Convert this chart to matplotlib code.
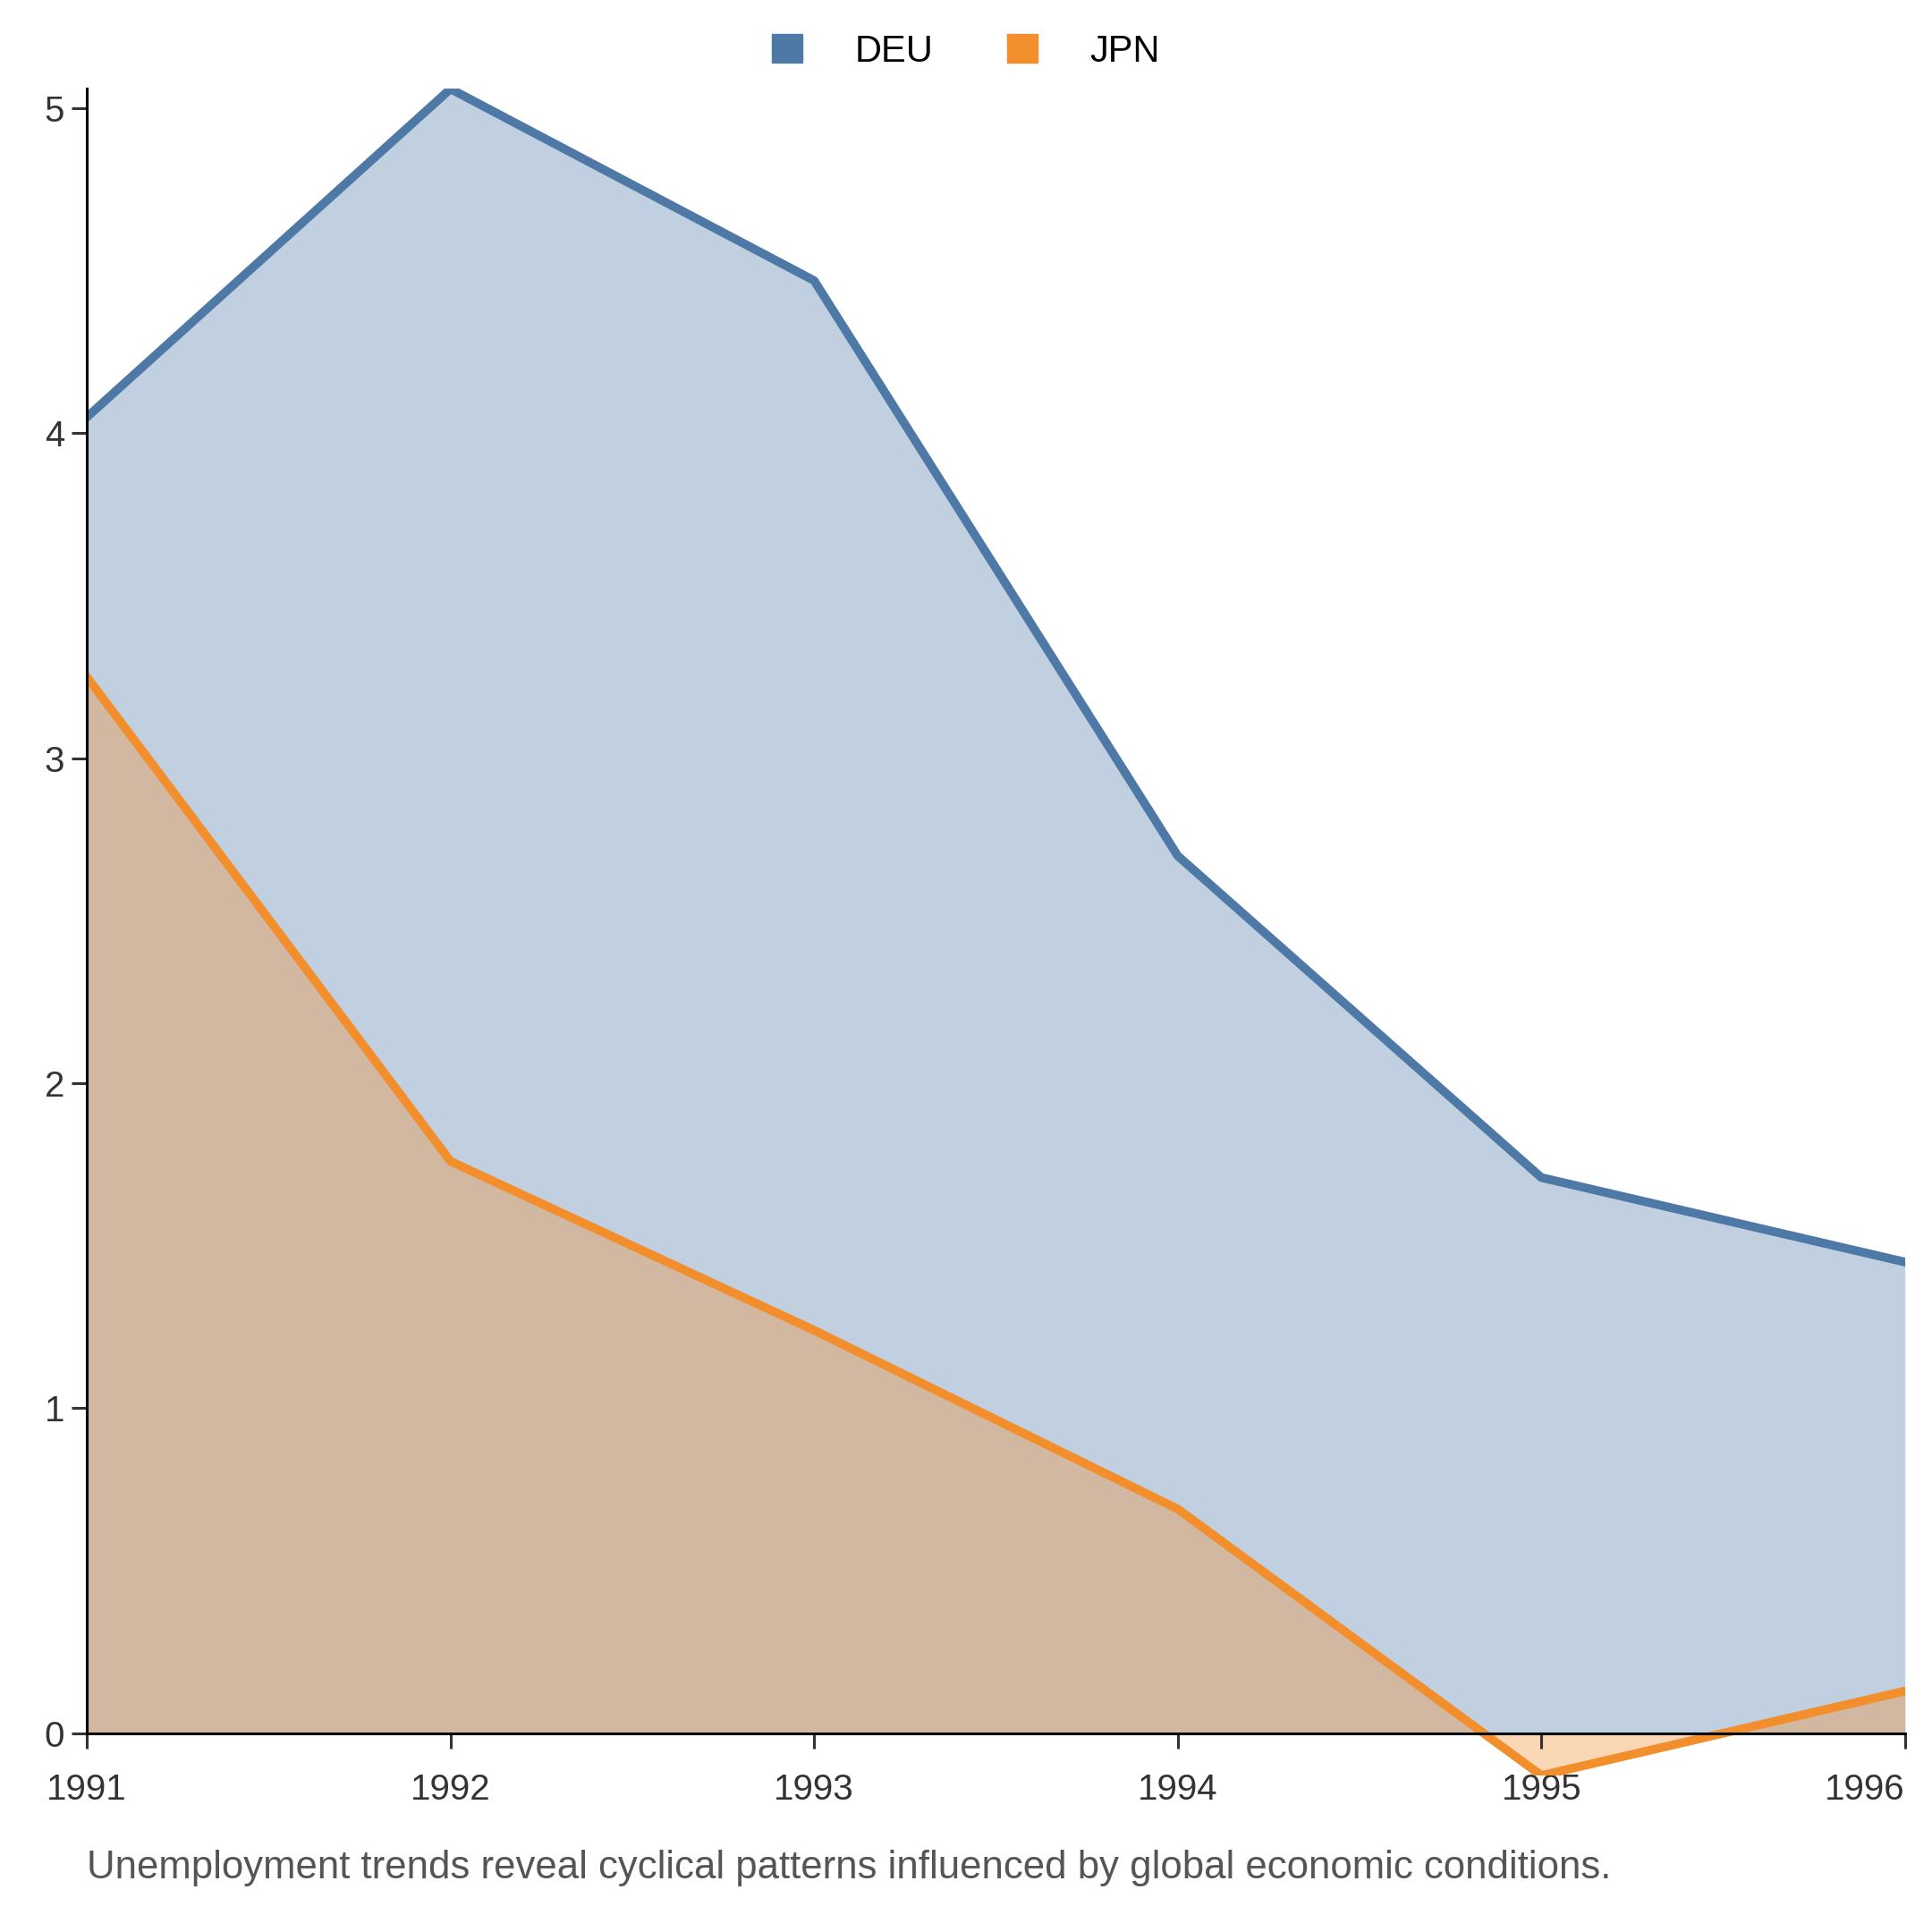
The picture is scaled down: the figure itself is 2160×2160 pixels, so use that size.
import matplotlib
matplotlib.use("Agg")
import matplotlib.pyplot as plt
from matplotlib.patches import Patch

years = [1991, 1992, 1993, 1994, 1995, 1996]
deu = [4.05, 5.06, 4.47, 2.70, 1.71, 1.45]
jpn = [3.25, 1.76, 1.24, 0.69, -0.13, 0.13]

blue = "#4e79a7"
orange = "#f28e2b"

plt.rcParams["font.family"] = ["Liberation Sans", "DejaVu Sans"]
fig = plt.figure(figsize=(21.6, 21.6), dpi=100)
ax = fig.add_axes([0.045, 0.081, 0.941, 0.873])

ax.fill_between(years, deu, 0, color=blue, alpha=0.35, linewidth=0)
ax.fill_between(years, jpn, 0, color=orange, alpha=0.35, linewidth=0)
ax.plot(years, deu, color=blue, linewidth=7)
ax.plot(years, jpn, color=orange, linewidth=7)

ax.set_xlim(1991, 1996)
ax.set_ylim(-0.13, 5.06)
ax.set_xticks(years)
ax.set_yticks([0, 1, 2, 3, 4, 5])
ax.spines["top"].set_visible(False)
ax.spines["right"].set_visible(False)
ax.spines["bottom"].set_position(("data", 0))
ax.spines["left"].set_bounds(0, 5.06)
for s in ["left", "bottom"]:
    ax.spines[s].set_linewidth(2.2)
ax.tick_params(labelsize=29, width=2.2, length=12, colors="#333333", pad=6)
ax.tick_params(axis="x", pad=20)
ax.get_xticklabels()[-1].set_ha("right")
ax.get_xticklabels()[-1].set_x(1996.02)

handles = [Patch(color=blue, label="DEU"), Patch(color=orange, label="JPN")]
fig.legend(handles=handles, loc="upper center", bbox_to_anchor=(0.5, 1.0), ncol=2,
           frameon=False, fontsize=30, handlelength=0.8, handleheight=0.8,
           columnspacing=2.0, handletextpad=1.4)

fig.text(0.045, 0.028, "Unemployment trends reveal cyclical patterns influenced by global economic conditions.",
         fontsize=31.5, color="#555555", ha="left")

fig.savefig("out.png", dpi=100)
